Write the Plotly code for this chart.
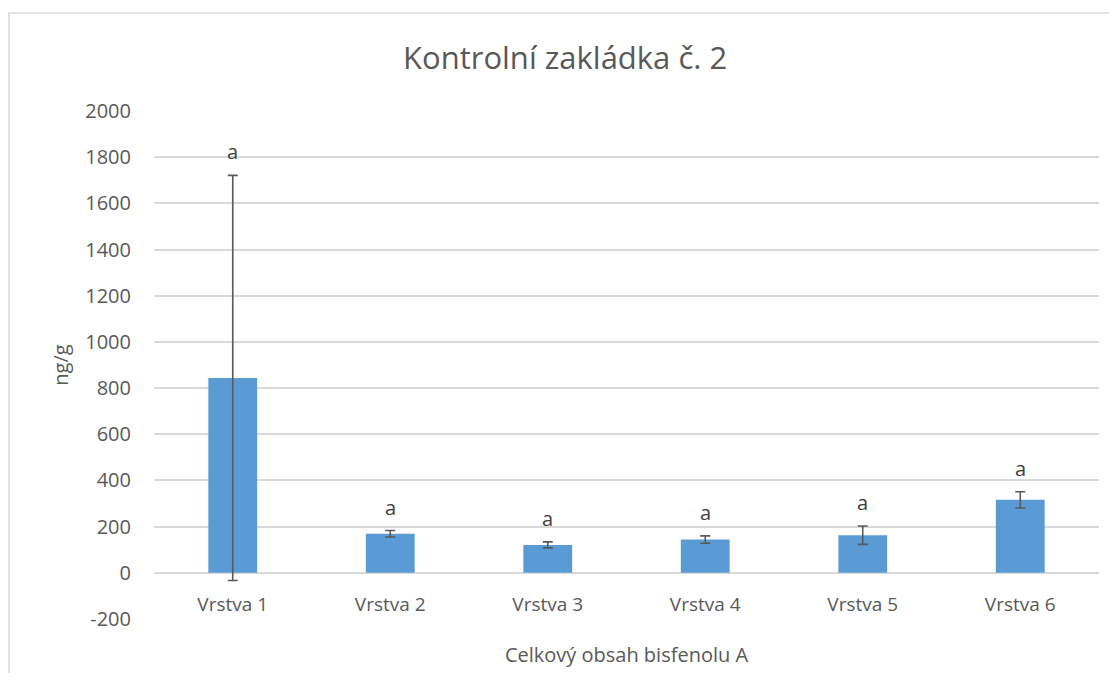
import plotly.graph_objects as go

# chart data
categories = ["Vrstva 1", "Vrstva 2", "Vrstva 3", "Vrstva 4", "Vrstva 5", "Vrstva 6"]
values = [844, 169, 121, 144, 163, 316]
errors = [877, 14, 13, 16, 40, 35]
letters = ["a", "a", "a", "a", "a", "a"]
y_ticks = list(range(-200, 2001, 200))
y_ticktext = [str(v) for v in y_ticks]

# page body has an 8px margin, so the figure is a bit smaller than the window
W, H = 1101, 665
ML, MR, MT, MB = 146, 10, 103, 54
y_min, y_max = -200, 2000
font = "Open Sans"
grey = "#595959"

fig = go.Figure()
fig.add_trace(go.Bar(
    x=categories, y=values, width=0.31,
    marker=dict(color="#5B9BD5", line=dict(width=0)),
    error_y=dict(type="data", array=errors, color=grey, thickness=1.6, width=5),
))

# "a" labels sitting above the error bars
for c, v, e, t in zip(categories, values, errors, letters):
    fig.add_annotation(x=c, y=v + e, text=t, showarrow=False,
                       yanchor="bottom", yshift=8,
                       font=dict(family=font, size=20, color="#404040"))

# outer chart border (like office chart area)
pw = W - ML - MR
ph = H - MT - MB
fig.add_shape(type="rect", xref="paper", yref="paper", layer="below",
              x0=(1 - ML) / pw, x1=(W + 20 - ML) / pw,
              y0=-(MB + 20) / ph, y1=(H - MB - 5) / ph,
              line=dict(color="#d9d9d9", width=1.5), fillcolor="rgba(0,0,0,0)")

fig.update_layout(
    width=W, height=H,
    margin=dict(l=ML, r=MR, t=MT, b=MB),
    paper_bgcolor="white", plot_bgcolor="white",
    showlegend=False,
    font=dict(family=font, color=grey),
    title=dict(text="Kontrolní zakládka č. 2", x=0.506, xanchor="center",
               y=1 - 50 / H, yanchor="middle",
               font=dict(family=font, size=31, color=grey)),
)
fig.update_yaxes(range=[y_min, y_max], tickvals=y_ticks, ticktext=y_ticktext,
                 showgrid=True, gridcolor="#d9d9d9", gridwidth=1.5,
                 zeroline=True, zerolinecolor="#d9d9d9", zerolinewidth=1.5,
                 showline=False, ticks="", ticklabelstandoff=22,
                 tickfont=dict(family=font, size=20, color=grey),
                 title=dict(text="ng/g", standoff=11,
                            font=dict(family=font, size=20, color=grey)))
# category axis crosses the value axis at 0, like the original
fig.update_xaxes(anchor="free", position=(0 - y_min) / (y_max - y_min),
                 showline=False, ticks="", showgrid=False, ticklabelstandoff=18,
                 tickfont=dict(family=font, size=19, color=grey),
                 title=dict(text="Celkový obsah bisfenolu A", standoff=32,
                            font=dict(family=font, size=20, color=grey)))

fig.write_html("out.html")
